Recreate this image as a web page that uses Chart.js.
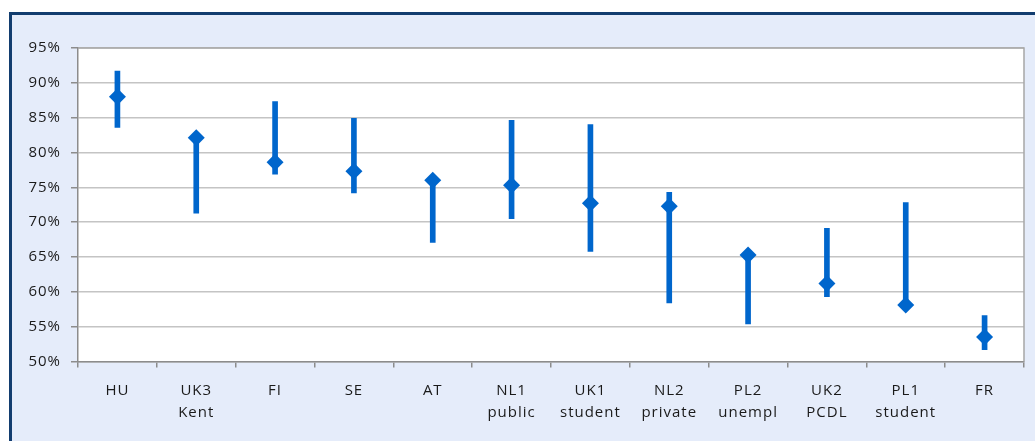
<!DOCTYPE html>
<html>
<head>
<meta charset="utf-8">
<script src="https://cdn.jsdelivr.net/npm/chart.js@4.4.1/dist/chart.umd.min.js"></script>
<style>
  html, body { margin: 0; padding: 0; background: #fff; }
  #frame { position: absolute; left: 9px; top: 12px; width: 1040px; height: 440px; background: #e5ecfa; border-left: 3px solid #123d6f; border-top: 3px solid #123d6f; }
  #wrap { position: absolute; left: 0; top: 0; width: 1035px; height: 441px; }
</style>
</head>
<body>
<div id="frame"></div>
<div id="wrap"><canvas id="c"></canvas></div>
<script>
// categorías y valores (en %)
const labels = ["HU", ["UK3", "Kent"], "FI", "SE", "AT", ["NL1", "public"], ["UK1", "student"], ["NL2", "private"], ["PL2", "unempl"], ["UK2", "PCDL"], ["PL1", "student"], "FR"];
const point = [88.0, 82.1, 78.6, 77.3, 76.0, 75.3, 72.7, 72.3, 65.3, 61.2, 58.1, 53.5];
const low   = [83.6, 71.3, 76.9, 74.2, 67.1, 70.5, 65.8, 58.4, 55.4, 59.3, 58.1, 51.7];
const high  = [91.7, 82.1, 87.3, 84.9, 76.0, 84.6, 84.0, 74.3, 65.3, 69.1, 72.8, 56.6];
const yTicks = [50, 55, 60, 65, 70, 75, 80, 85, 90, 95];

const BLUE = "#0066cc", AXIS = "#8c8c8c", GRID = "#c4c4c4", TXT = "#1a1a1a";
const FONT = { family: "'Open Sans', sans-serif", size: 15, lineHeight: 1.47 };

// fondo blanco del área de trazado + borde gris arriba/derecha
const plotBg = {
  id: "plotBg",
  beforeUpdate(chart) { chart.ctx.letterSpacing = "1px"; },
  beforeDraw(chart) {
    const { ctx, chartArea: a } = chart;
    ctx.letterSpacing = "1px";
    ctx.save();
    ctx.fillStyle = "#fff";
    ctx.fillRect(a.left, a.top, a.right - a.left, a.bottom - a.top);
    ctx.restore();
  },
  afterDatasetsDraw(chart) {
    const { ctx, chartArea: a } = chart;
    ctx.save();
    ctx.strokeStyle = "#a6a6a6";
    ctx.lineWidth = 1.5;
    ctx.beginPath();
    ctx.moveTo(a.left, a.top); ctx.lineTo(a.right, a.top); ctx.lineTo(a.right, a.bottom);
    ctx.stroke();
    ctx.restore();
  },
};

new Chart(document.getElementById("c").getContext("2d"), {
  data: {
    labels,
    datasets: [
      { type: "line", data: point, showLine: false, pointStyle: "rectRot", pointRadius: 8.5, pointBackgroundColor: BLUE, pointBorderColor: BLUE, pointBorderWidth: 0, order: 0 },
      { type: "bar", data: low.map((l, i) => [l, high[i]]), backgroundColor: BLUE, barThickness: 5, borderSkipped: false, order: 1 },
    ],
  },
  options: {
    responsive: true, maintainAspectRatio: false, animation: false,
    layout: { padding: { left: 0, top: 48, right: 11, bottom: 0 } },
    plugins: { legend: { display: false }, tooltip: { enabled: false } },
    scales: {
      x: {
        offset: true,
        grid: { display: true, drawOnChartArea: false, offset: true, tickLength: 6, color: AXIS, lineWidth: 1.5 },
        border: { color: AXIS, width: 1.5 },
        ticks: { color: TXT, font: FONT, padding: 12, maxRotation: 0, autoSkip: false },
        afterFit: (s) => { s.height = 79.5; },
      },
      y: {
        min: 50, max: 95,
        afterBuildTicks: (s) => { s.ticks = yTicks.map((v) => ({ value: v })); },
        grid: { color: GRID, lineWidth: 1.5, tickLength: 7, tickColor: AXIS },
        border: { color: AXIS, width: 1.5 },
        ticks: { color: TXT, font: { family: FONT.family, size: 15 }, padding: 10, callback: (v) => v + "%" },
        afterFit: (s) => { s.width = 78; },
      },
    },
  },
  plugins: [plotBg],
});
</script>
</body>
</html>
